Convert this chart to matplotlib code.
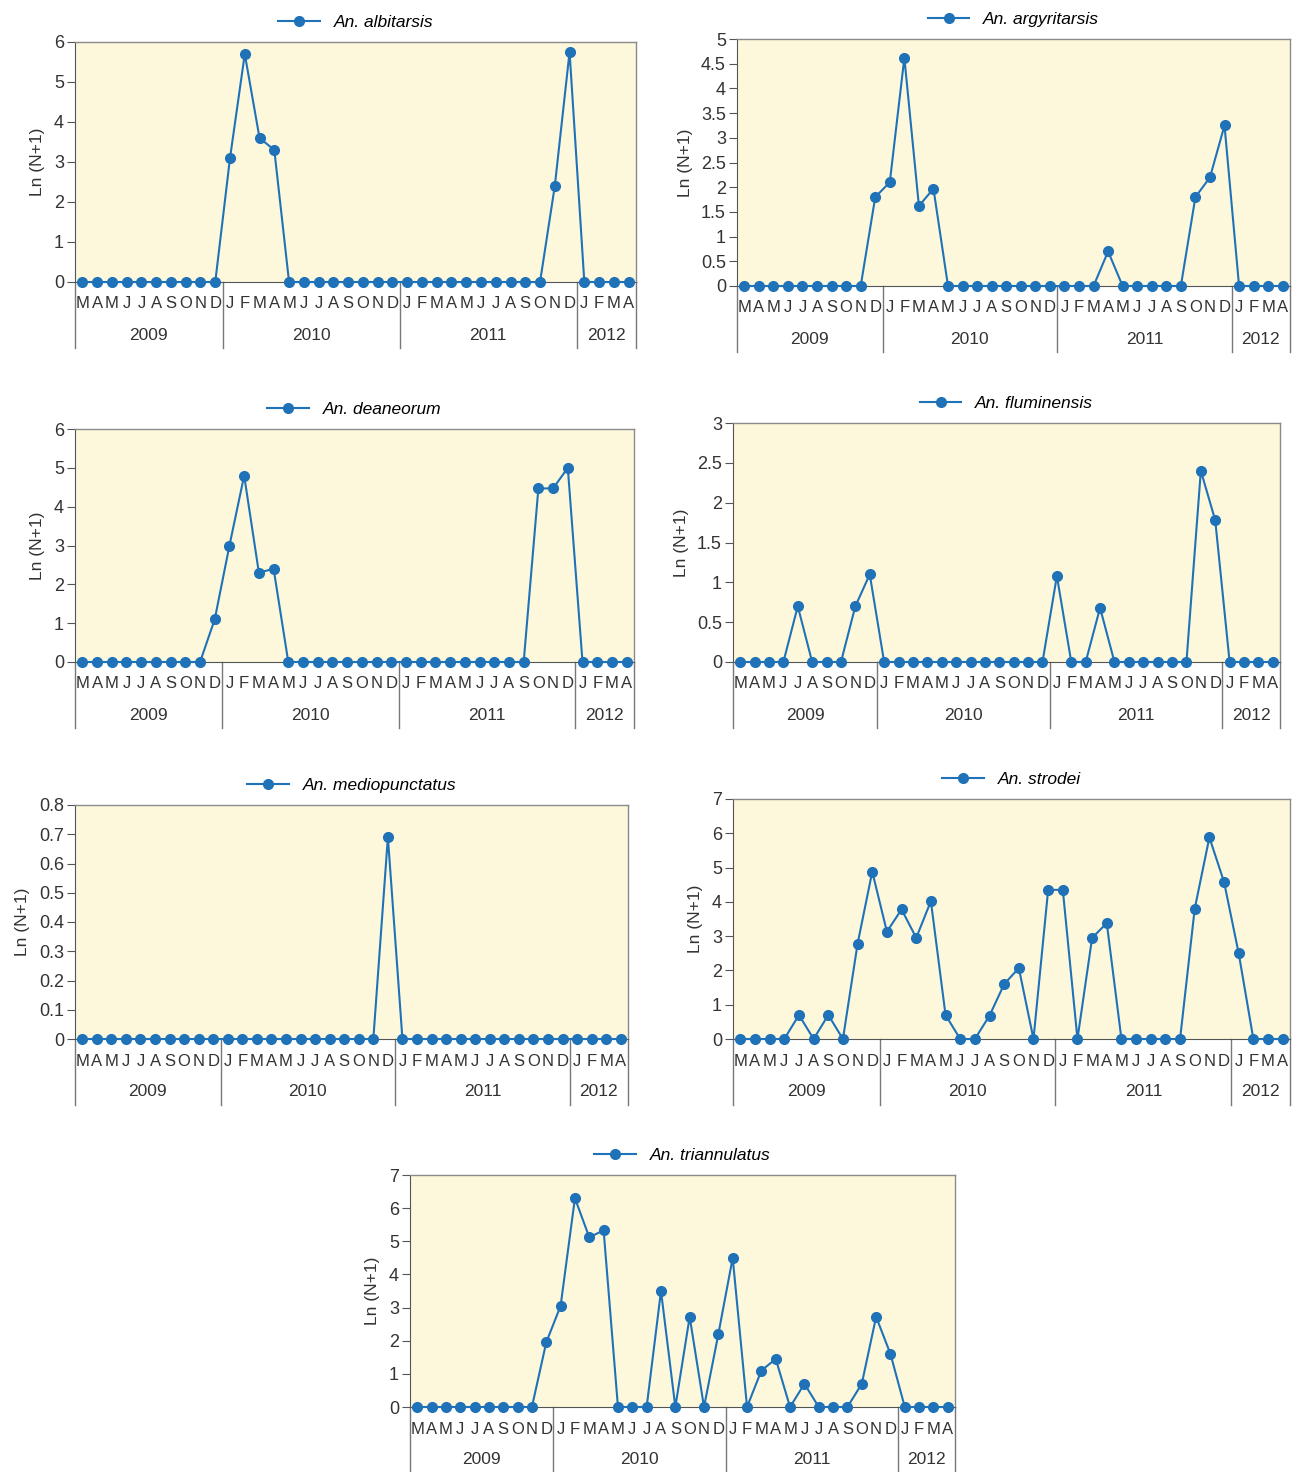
import matplotlib
matplotlib.use("Agg")
import matplotlib.pyplot as plt
import matplotlib.transforms as mtransforms

plt.rcParams['font.family'] = ['Liberation Sans', 'DejaVu Sans']

# Meses de marzo 2009 a abril 2012
months = list("MAMJJASOND") + list("JFMAMJJASOND") * 2 + list("JFMA")
years = ["2009", "2010", "2011", "2012"]
year_counts = [10, 12, 12, 4]

albitarsis = [0] * 10 + [3.1, 5.7, 3.6, 3.3, 0, 0, 0, 0, 0, 0, 0, 0] \
    + [0, 0, 0, 0, 0, 0, 0, 0, 0, 0, 2.4, 5.75] + [0, 0, 0, 0]
argyritarsis = [0, 0, 0, 0, 0, 0, 0, 0, 0, 1.8] \
    + [2.1, 4.62, 1.62, 1.97, 0, 0, 0, 0, 0, 0, 0, 0] \
    + [0, 0, 0, 0.7, 0, 0, 0, 0, 0, 1.8, 2.2, 3.25] + [0, 0, 0, 0]
deaneorum = [0, 0, 0, 0, 0, 0, 0, 0, 0, 1.1] \
    + [3.0, 4.8, 2.3, 2.4, 0, 0, 0, 0, 0, 0, 0, 0] \
    + [0, 0, 0, 0, 0, 0, 0, 0, 0, 4.47, 4.47, 5.0] + [0, 0, 0, 0]
fluminensis = [0, 0, 0, 0, 0.7, 0, 0, 0, 0.7, 1.1] + [0] * 12 \
    + [1.08, 0, 0, 0.68, 0, 0, 0, 0, 0, 0, 2.4, 1.78] + [0, 0, 0, 0]
mediopunctatus = [0] * 10 + [0] * 11 + [0.69] + [0] * 12 + [0, 0, 0, 0]
strodei = [0, 0, 0, 0, 0.7, 0, 0.7, 0, 2.78, 4.88] \
    + [3.13, 3.78, 2.95, 4.02, 0.7, 0, 0, 0.68, 1.6, 2.07, 0, 4.35] \
    + [4.35, 0, 2.95, 3.38, 0, 0, 0, 0, 0, 3.8, 5.88, 4.58] + [2.5, 0, 0, 0]
triannulatus = [0, 0, 0, 0, 0, 0, 0, 0, 0, 1.95] \
    + [3.05, 6.3, 5.12, 5.33, 0, 0, 0, 3.5, 0, 2.72, 0, 2.2] \
    + [4.5, 0, 1.1, 1.45, 0, 0.7, 0, 0, 0, 0.7, 2.72, 1.6] + [0, 0, 0, 0]

W, H = 1293, 1472
BLUE = "#1f72b8"
BG = "#fdf8dc"
GREY = "#555555"

fig = plt.figure(figsize=(W / 100, H / 100), dpi=100)


def panel(name, values, box, ymax, ystep):
    left, right, top, bottom = box
    ax = fig.add_axes([left / W, 1 - bottom / H, (right - left) / W, (bottom - top) / H])
    ax.set_facecolor(BG)
    x = list(range(len(values)))
    ax.plot(x, values, color=BLUE, lw=1.5, marker="o", ms=7, label=name,
            clip_on=False, zorder=3)
    ax.set_xlim(-0.5, len(values) - 0.5)
    ax.set_ylim(0, ymax)
    ticks = []
    t = 0
    while t <= ymax + 1e-9:
        ticks.append(round(t, 2))
        t += ystep
    ax.set_yticks(ticks)
    ax.set_yticklabels([f"{v:g}" for v in ticks], fontsize=13, color="#333333")
    ax.set_xticks([])
    for s in ["top", "right"]:
        ax.spines[s].set_color("#8a8a8a")
        ax.spines[s].set_linewidth(1.0)
    ax.spines["left"].set_color(GREY)
    ax.spines["bottom"].set_color(GREY)
    ax.tick_params(axis="y", direction="out", length=6, color=GREY, pad=2)
    ax.set_ylabel("Ln (N+1)", fontsize=12.5, color="#333333", labelpad=6)

    # etiquetas de meses y años
    trans = mtransforms.blended_transform_factory(ax.transData, ax.transAxes)
    h = bottom - top
    for i, m in enumerate(months):
        ax.text(i, -22 / h, m, transform=trans, ha="center", va="center",
                fontsize=12, color="#333333")
    start = -0.5
    bounds = [start]
    for yr, n in zip(years, year_counts):
        ax.text(start + n / 2, -53 / h, yr, transform=trans, ha="center",
                va="center", fontsize=12.5, color="#333333")
        start += n
        bounds.append(start)
    for b in bounds:
        ax.plot([b, b], [0, -66 / h], transform=trans, color="#777777",
                lw=1.0, clip_on=False)

    ax.legend(loc="lower center", bbox_to_anchor=(0.5, 1.0), frameon=False,
              prop={"style": "italic", "size": 12.5}, handlelength=2.4,
              borderaxespad=0.3)
    return ax


panel("An. albitarsis", albitarsis, (75, 636, 42, 282), 6, 1)
panel("An. argyritarsis", argyritarsis, (737, 1290, 39, 286), 5, 0.5)
panel("An. deaneorum", deaneorum, (75, 634, 429, 662), 6, 1)
panel("An. fluminensis", fluminensis, (733, 1280, 423, 662), 3, 0.5)
panel("An. mediopunctatus", mediopunctatus, (75, 628, 805, 1039), 0.8, 0.1)
panel("An. strodei", strodei, (733, 1290, 799, 1039), 7, 1)
panel("An. triannulatus", triannulatus, (410, 955, 1175, 1407), 7, 1)

fig.savefig("out.png", dpi=100, facecolor="white")
